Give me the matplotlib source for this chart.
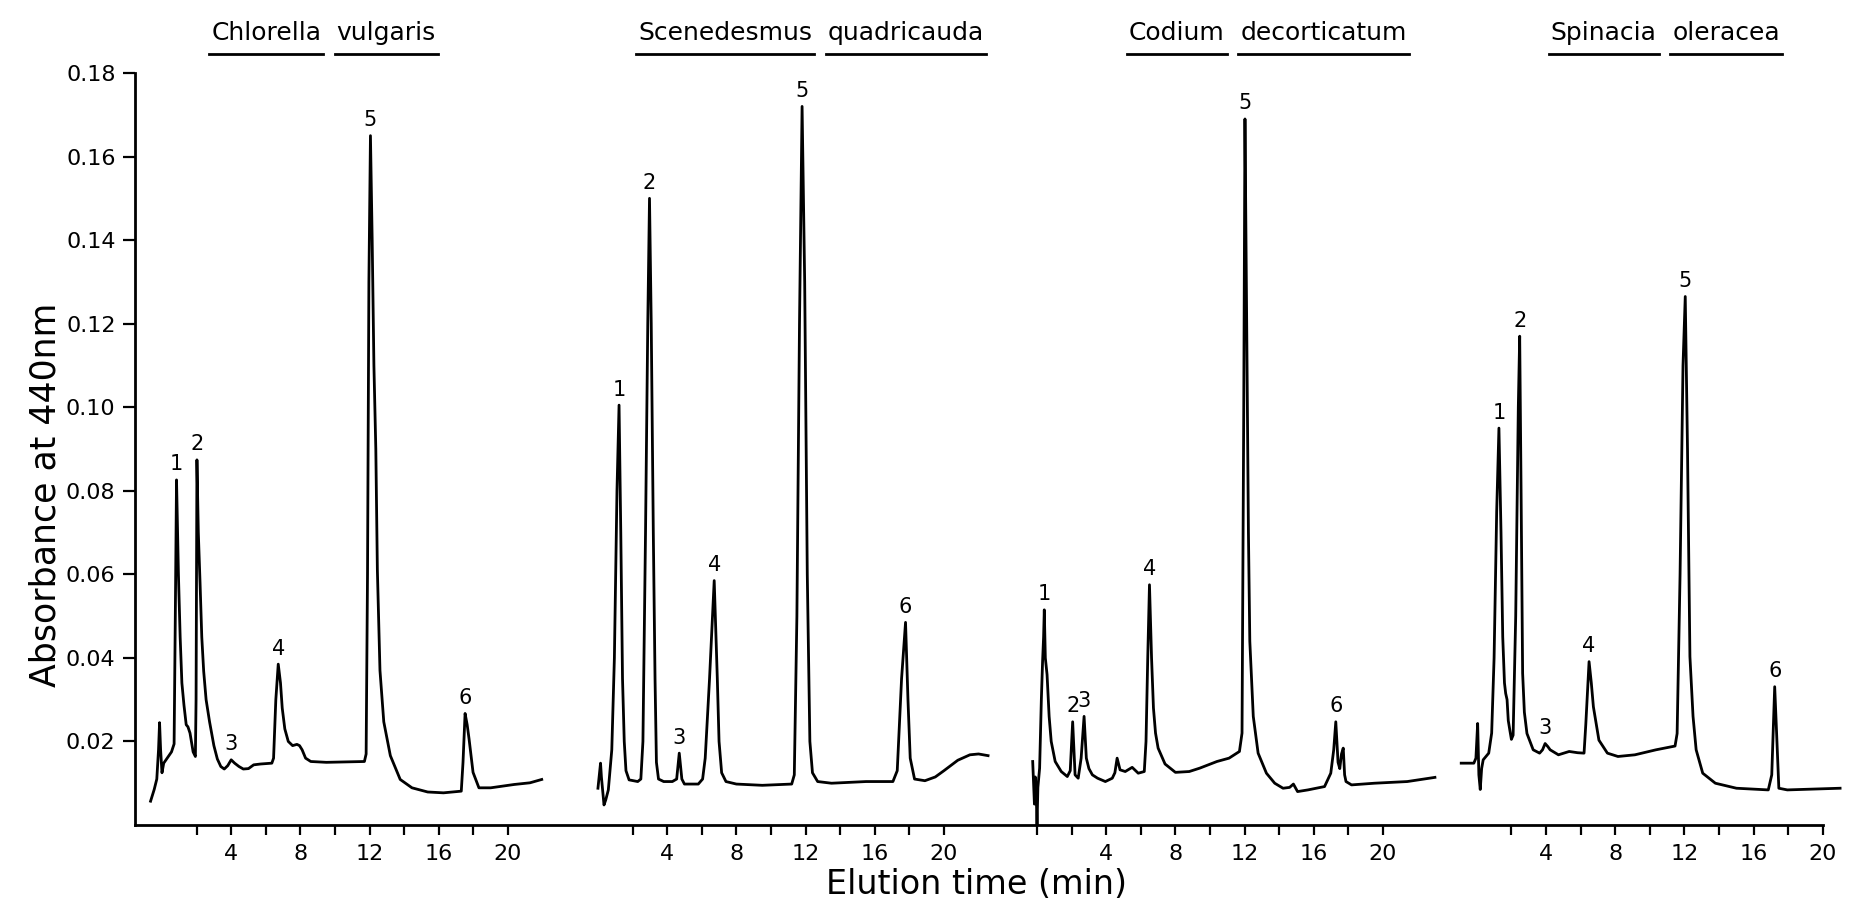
import matplotlib
matplotlib.use("Agg")
import matplotlib.pyplot as plt
from matplotlib.lines import Line2D
from matplotlib.ticker import FixedLocator, FormatStrFormatter, NullFormatter

# ---------------- data ----------------
genus = ["Chlorella", "Scenedesmus", "Codium", "Spinacia"]
epithet = ["vulgaris", "quadricauda", "decorticatum", "oleracea"]

chlorella_t = [-0.66, -0.45, -0.3, -0.2, -0.14, -0.08, 0.0, 0.1, 0.3, 0.55, 0.7, 0.77, 0.84,
               0.95, 1.05, 1.15, 1.27, 1.4, 1.5, 1.62, 1.8, 1.93, 1.97, 2.02, 2.1, 2.2, 2.3,
               2.41, 2.55, 2.75, 3.0, 3.2, 3.4, 3.6, 3.8, 4.0, 4.2, 4.45, 4.7, 5.0, 5.3, 5.7,
               6.35, 6.45, 6.58, 6.72, 6.85, 6.95, 7.1, 7.3, 7.55, 7.8, 7.95, 8.1, 8.3, 8.6,
               9.5, 11.7, 11.8, 11.88, 11.96, 12.05, 12.15, 12.25, 12.36, 12.45, 12.6, 12.82,
               13.2, 13.77, 14.45, 15.36, 16.27, 17.3, 17.4, 17.52, 17.64, 17.75, 17.98, 18.32,
               19.0, 20.36, 21.27, 21.95]
chlorella_a = [0.0057, 0.0085, 0.011, 0.018, 0.0245, 0.018, 0.0125, 0.0148, 0.016, 0.0175,
               0.0194, 0.05, 0.0826, 0.06, 0.045, 0.034, 0.0287, 0.024, 0.0235, 0.022, 0.0175,
               0.0164, 0.03, 0.0874, 0.07, 0.058, 0.045, 0.0368, 0.03, 0.0247, 0.019, 0.0158,
               0.014, 0.0134, 0.0142, 0.0156, 0.0148, 0.014, 0.0134, 0.0135, 0.0144, 0.0146,
               0.0148, 0.016, 0.03, 0.0385, 0.034, 0.028, 0.023, 0.02, 0.019, 0.0193, 0.019,
               0.018, 0.016, 0.0152, 0.015, 0.0152, 0.017, 0.06, 0.13, 0.165, 0.14, 0.11, 0.09,
               0.061, 0.037, 0.0247, 0.0166, 0.0109, 0.0089, 0.0079, 0.0077, 0.0081, 0.015,
               0.0267, 0.024, 0.0206, 0.0126, 0.0089, 0.0089, 0.0097, 0.0101, 0.0109]

scenedesmus_t = [0.0, 0.15, 0.2, 0.35, 0.45, 0.6, 0.8, 0.95, 1.1, 1.22, 1.32, 1.42, 1.52, 1.62,
                 1.8, 2.3, 2.48, 2.6, 2.75, 2.88, 2.98, 3.08, 3.2, 3.3, 3.38, 3.5, 3.8, 4.3,
                 4.55, 4.7, 4.85, 5.0, 5.8, 6.05, 6.2, 6.45, 6.72, 6.9, 7.0, 7.15, 7.4, 8.0,
                 9.5, 11.2, 11.35, 11.5, 11.65, 11.8, 11.95, 12.1, 12.25, 12.4, 12.7, 13.5,
                 15.5, 17.05, 17.3, 17.55, 17.78, 17.92, 18.05, 18.3, 18.9, 19.5, 20.0, 20.8,
                 21.5, 22.0, 22.55]
scenedesmus_a = [0.0088, 0.0148, 0.0115, 0.0048, 0.006, 0.0084, 0.018, 0.04, 0.08, 0.1005,
                 0.07, 0.035, 0.02, 0.013, 0.0108, 0.0104, 0.011, 0.02, 0.07, 0.12, 0.150,
                 0.12, 0.07, 0.035, 0.015, 0.011, 0.0104, 0.0104, 0.011, 0.0172, 0.011, 0.0098,
                 0.0098, 0.011, 0.016, 0.035, 0.0585, 0.035, 0.02, 0.0125, 0.0104, 0.0098,
                 0.0095, 0.0098, 0.012, 0.05, 0.12, 0.172, 0.13, 0.06, 0.02, 0.0125, 0.0104,
                 0.0100, 0.0104, 0.0104, 0.013, 0.035, 0.0485, 0.03, 0.016, 0.011, 0.0106,
                 0.0115, 0.013, 0.0155, 0.0168, 0.017, 0.0166]

codium_t = [-0.25, -0.15, -0.1, -0.05, 0.0, 0.05, 0.15, 0.25, 0.32, 0.38, 0.42, 0.48, 0.58,
            0.7, 0.82, 1.05, 1.4, 1.75, 1.92, 2.06, 2.2, 2.38, 2.55, 2.72, 2.85, 3.0, 3.2,
            3.5, 3.95, 4.35, 4.5, 4.63, 4.8, 5.1, 5.5, 5.85, 6.2, 6.3, 6.4, 6.5, 6.62, 6.73,
            6.85, 7.0, 7.4, 8.0, 8.8, 9.4, 10.4, 11.1, 11.7, 11.85, 11.95, 12.02, 12.12, 12.22,
            12.3, 12.5, 12.78, 13.26, 13.74, 14.22, 14.6, 14.82, 15.06, 15.66, 16.62, 16.98,
            17.15, 17.27, 17.4, 17.5, 17.6, 17.7, 17.78, 17.86, 18.18, 19.5, 21.4, 23.0]
codium_a = [0.0152, 0.005, 0.0115, 0.008, 0.0, 0.009, 0.0136, 0.03, 0.039, 0.045, 0.0515,
            0.04, 0.036, 0.026, 0.02, 0.0152, 0.0128, 0.0116, 0.013, 0.0247, 0.012, 0.0112,
            0.016, 0.026, 0.016, 0.0135, 0.012, 0.0112, 0.0104, 0.0112, 0.0125, 0.016, 0.0132,
            0.0128, 0.0138, 0.0124, 0.0128, 0.02, 0.04, 0.0575, 0.04, 0.028, 0.022, 0.0184,
            0.0146, 0.0126, 0.0128, 0.0136, 0.0152, 0.016, 0.0176, 0.022, 0.1, 0.169, 0.12,
            0.07, 0.044, 0.026, 0.0172, 0.0124, 0.01, 0.0088, 0.009, 0.0098, 0.008, 0.0084,
            0.0092, 0.0124, 0.018, 0.0247, 0.015, 0.0135, 0.017, 0.0184, 0.012, 0.0104,
            0.0096, 0.01, 0.0104, 0.0114]

spinacia_t = [-0.9, -0.17, -0.05, 0.05, 0.12, 0.2, 0.28, 0.37, 0.69, 0.86, 1.0, 1.15, 1.28,
              1.4, 1.5, 1.6, 1.67, 1.75, 1.82, 1.91, 2.0, 2.1, 2.25, 2.4, 2.48, 2.56, 2.65,
              2.75, 2.9, 3.26, 3.63, 3.8, 3.95, 4.1, 4.24, 4.72, 5.34, 5.83, 6.2, 6.3, 6.49,
              6.62, 6.74, 7.06, 7.55, 8.16, 9.14, 10.36, 11.46, 11.58, 11.75, 11.92, 12.05,
              12.18, 12.32, 12.5, 12.68, 13.06, 13.79, 15.01, 16.85, 17.05, 17.22, 17.35,
              17.46, 17.95, 21.0]
spinacia_a = [0.0148, 0.0148, 0.016, 0.0243, 0.012, 0.0085, 0.0135, 0.0156, 0.0172, 0.022,
              0.04, 0.075, 0.095, 0.07, 0.045, 0.034, 0.0315, 0.03, 0.025, 0.0227, 0.0205,
              0.0215, 0.05, 0.1, 0.117, 0.08, 0.0363, 0.027, 0.0219, 0.018, 0.0172, 0.018,
              0.0195, 0.0188, 0.018, 0.0168, 0.0176, 0.0173, 0.0172, 0.024, 0.0391, 0.034,
              0.0283, 0.0203, 0.0172, 0.0164, 0.0168, 0.018, 0.0189, 0.0219, 0.06, 0.11,
              0.1265, 0.09, 0.0403, 0.026, 0.018, 0.0124, 0.01, 0.0088, 0.0084, 0.012, 0.0331,
              0.02, 0.0088, 0.0084, 0.0088]

peak_names = ["1", "2", "3", "4", "5", "6"]
chlorella_peak_t = [0.84, 2.02, 4.0, 6.72, 12.05, 17.52]
scenedesmus_peak_t = [1.22, 2.98, 4.7, 6.72, 11.8, 17.78]
codium_peak_t = [0.42, 2.06, 2.72, 6.5, 12.02, 17.27]
spinacia_peak_t = [1.28, 2.48, 3.95, 6.49, 12.05, 17.22]

y_ticks = [0.02, 0.04, 0.06, 0.08, 0.10, 0.12, 0.14, 0.16, 0.18]
x_major = [4, 8, 12, 16, 20]
x_minor = [2, 6, 10, 14, 18]

# ---------------- layout ----------------
W, H = 1851, 907
fig = plt.figure(figsize=(W / 100, H / 100), dpi=100)
plt.rcParams["font.family"] = ["DejaVu Sans"]

traces = [(chlorella_t, chlorella_a, chlorella_peak_t),
          (scenedesmus_t, scenedesmus_a, scenedesmus_peak_t),
          (codium_t, codium_a, codium_peak_t),
          (spinacia_t, spinacia_a, spinacia_peak_t)]
offsets = [0.0, 25.2, 50.58, 76.0]          # panel origins on the shared time axis
title_center = [9.65, 12.85, 11.3, 10.85]   # title centres in panel minutes
extra_zero_tick = [False, False, True, False]

px_per_min = 17.3
ax_left_px, ax_bottom_px, ax_top_px = 135, 825, 73
xl = -1.56
xr = xl + (W - ax_left_px) / px_per_min
ax = fig.add_axes([ax_left_px / W, 1 - ax_bottom_px / H,
                   (W - ax_left_px) / W, (ax_bottom_px - ax_top_px) / H])
ax.set_xlim(xl, xr)
ax.set_ylim(0, 0.18)

for sp in ["top", "right"]:
    ax.spines[sp].set_visible(False)
ax.spines["left"].set_linewidth(2.0)
ax.spines["bottom"].set_linewidth(2.0)
ax.spines["left"].set_bounds(0, 0.18)
ax.spines["bottom"].set_bounds(xl, offsets[-1] + 20)

# traces
for (t, a, pk), off in zip(traces, offsets):
    ax.plot([v + off for v in t], a, color="black", lw=2.0, solid_joinstyle="round",
            clip_on=False)
    for name, pt in zip(peak_names, pk):
        near = [av for tv, av in zip(t, a) if abs(tv - pt) <= 0.2]
        top = max(near)
        ax.annotate(name, xy=(pt + off, top), xytext=(0, 4), textcoords="offset points",
                    ha="center", va="bottom", fontsize=15)

# ticks
maj, mnr = [], []
for off, z in zip(offsets, extra_zero_tick):
    maj += [off + v for v in x_major]
    mnr += [off + v for v in x_minor]
    if z:
        mnr.append(off)
ax.xaxis.set_major_locator(FixedLocator(maj))
ax.set_xticklabels([str(v) for _ in offsets for v in x_major])
ax.xaxis.set_minor_locator(FixedLocator(mnr))
ax.xaxis.set_minor_formatter(NullFormatter())
ax.tick_params(axis="x", which="both", direction="out", length=7, width=1.6, pad=7,
               labelsize=16)
ax.yaxis.set_major_locator(FixedLocator(y_ticks))
ax.yaxis.set_major_formatter(FormatStrFormatter("%.2f"))
ax.tick_params(axis="y", which="major", direction="out", length=9, width=1.6, pad=5,
               labelsize=16)

fig.text(45 / W, 1 - 495 / H, "Absorbance at 440nm", rotation=90, ha="center",
         va="center", fontsize=25)
fig.text(976 / W, 1 - 884 / H, "Elution time (min)", ha="center", va="center",
         fontsize=24)

# titles with per-word underline
title_texts = []
trans = ax.get_xaxis_transform()
gap = 0.45
for g, e, off, c in zip(genus, epithet, offsets, title_center):
    t1 = ax.text(off + c - gap, 1.053, g, transform=trans, ha="right", va="center",
                 fontsize=18)
    t2 = ax.text(off + c + gap, 1.053, e, transform=trans, ha="left", va="center",
                 fontsize=18)
    title_texts += [t1, t2]

fig.canvas.draw()
r = fig.canvas.get_renderer()
for tt in title_texts:
    bb = tt.get_window_extent(r)
    y = (bb.y0 - 9) / H
    fig.add_artist(Line2D([(bb.x0 - 2) / W, (bb.x1 + 2) / W], [y, y],
                          transform=fig.transFigure, color="black", lw=2.0))

fig.savefig("out.png", dpi=100)
